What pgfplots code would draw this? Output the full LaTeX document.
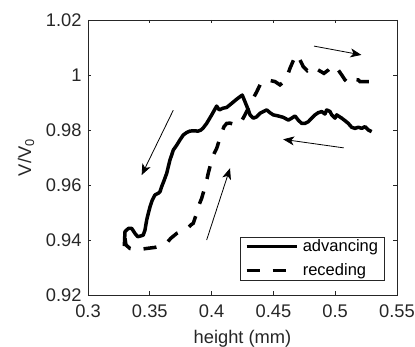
\documentclass[border=0pt]{standalone}
\usepackage{fontspec}
\setmainfont{Liberation Sans}
\usepackage{pgfplots}
\pgfplotsset{compat=1.18}
\usetikzlibrary{arrows.meta}
\definecolor{axgray}{rgb}{0.15,0.15,0.15}
\newcommand{\chartfont}{\fontsize{18.3}{22}\selectfont}
\newcommand{\legfont}{\fontsize{16.5}{20}\selectfont}
\begin{document}
\begin{tikzpicture}
\useasboundingbox (-88pt,-52pt) rectangle (327pt,295pt);
\begin{axis}[
  scale only axis,
  width=309pt, height=275pt,
  xmin=0.3, xmax=0.55, ymin=0.92, ymax=1.02,
  xtick={0.3,0.35,0.4,0.45,0.5,0.55},
  xticklabels={0.3,0.35,0.4,0.45,0.5,0.55},
  ytick={0.92,0.94,0.96,0.98,1,1.02},
  yticklabels={0.92,0.94,0.96,0.98,1,1.02},
  scaled ticks=false,
  tick align=inside, tick pos=both,
  major tick length=3.5pt,
  axis line style={axgray, line width=0.6pt},
  every tick/.style={axgray, line width=0.6pt},
  /pgf/number format/assume math mode=true,
  tick label style={font=\chartfont, text=axgray},
  xticklabel style={yshift=-6.5pt},
  yticklabel style={xshift=-3pt},
  xlabel={height (mm)},
  ylabel={V/V\textsubscript{0}},
  xlabel style={font=\chartfont, text=axgray, at={(axis description cs:0.5,-0.1575)}, anchor=center, inner sep=0pt},
  ylabel style={font=\chartfont, text=axgray, at={(axis description cs:-0.2006,0.5)}, anchor=center, inner sep=0pt, rotate=0},
  legend style={at={(axis description cs:0.961,0.052)}, anchor=south east,
    draw=axgray, line width=0.6pt, inner xsep=4.6pt, inner ysep=1pt,
    font=\legfont, row sep=6.5pt, cells={anchor=west},
    nodes={inner sep=2pt},
    /tikz/every odd column/.append style={column sep=2pt}},
  legend image code/.code={\draw[#1] (0pt,0pt) -- (50.5pt,0pt);},
  clip=false,
]
\addplot[black, line width=3.5pt, line join=round] coordinates {
(0.3294,0.9378) (0.3299,0.9430) (0.3326,0.9442) (0.3354,0.9442) (0.3380,0.9424)
(0.3402,0.9412) (0.3429,0.9415) (0.3447,0.9418) (0.3461,0.9436) (0.3475,0.9473)
(0.3488,0.9497) (0.3502,0.9521) (0.3520,0.9545) (0.3542,0.9564) (0.3569,0.9570)
(0.3583,0.9576) (0.3596,0.9594) (0.3617,0.9618) (0.3637,0.9643) (0.3650,0.9667)
(0.3663,0.9691) (0.3677,0.9709) (0.3690,0.9727) (0.3718,0.9745) (0.3744,0.9764)
(0.3771,0.9782) (0.3799,0.9791) (0.3825,0.9796) (0.3852,0.9797) (0.3892,0.9796)
(0.3914,0.9800) (0.3933,0.9808) (0.3960,0.9824) (0.4001,0.9855) (0.4041,0.9887)
(0.4062,0.9873) (0.4090,0.9879) (0.4122,0.9882) (0.4163,0.9897) (0.4203,0.9912)
(0.4248,0.9927) (0.4270,0.9903) (0.4297,0.9873) (0.4311,0.9855) (0.4338,0.9843)
(0.4365,0.9848) (0.4392,0.9861) (0.4418,0.9867) (0.4446,0.9873) (0.4472,0.9863)
(0.4499,0.9855) (0.4540,0.9851) (0.4580,0.9846) (0.4621,0.9836) (0.4648,0.9843)
(0.4675,0.9851) (0.4701,0.9836) (0.4729,0.9824) (0.4756,0.9824) (0.4782,0.9830)
(0.4810,0.9843) (0.4837,0.9855) (0.4863,0.9863) (0.4891,0.9867) (0.4917,0.9858)
(0.4931,0.9873) (0.4958,0.9867) (0.4972,0.9855) (0.4998,0.9843) (0.5012,0.9855)
(0.5053,0.9843) (0.5079,0.9834) (0.5106,0.9824) (0.5133,0.9810) (0.5160,0.9806)
(0.5187,0.9810) (0.5214,0.9806) (0.5241,0.9812) (0.5268,0.9800) (0.5295,0.9794)
};
\addlegendentry{advancing}
\addplot[black, line width=3.5pt, dash pattern=on 13pt off 13pt] coordinates {
(0.3299,0.9407) (0.3307,0.9382) (0.3340,0.9369) (0.3380,0.9366) (0.3437,0.9367)
(0.3488,0.9370) (0.3542,0.9373) (0.3569,0.9376) (0.3607,0.9382) (0.3637,0.9390)
(0.3672,0.9407) (0.3718,0.9424) (0.3744,0.9429) (0.3771,0.9436) (0.3809,0.9444)
(0.3833,0.9455) (0.3852,0.9461) (0.3879,0.9497) (0.3898,0.9527) (0.3920,0.9552)
(0.3947,0.9594) (0.3963,0.9622) (0.3973,0.9643) (0.4001,0.9691) (0.4019,0.9713)
(0.4041,0.9733) (0.4060,0.9760) (0.4082,0.9790) (0.4100,0.9812) (0.4122,0.9824)
(0.4149,0.9825) (0.4173,0.9822) (0.4214,0.9818) (0.4238,0.9829) (0.4270,0.9855)
(0.4311,0.9891) (0.4343,0.9920) (0.4365,0.9939) (0.4405,0.9976) (0.4440,0.9982)
(0.4472,0.9980) (0.4513,0.9976) (0.4553,0.9964) (0.4594,0.9979) (0.4618,1.0004)
(0.4634,1.0024) (0.4675,1.0067) (0.4699,1.0073) (0.4715,1.0055) (0.4742,1.0030)
(0.4774,1.0016) (0.4810,1.0030) (0.4837,1.0025) (0.4871,1.0016) (0.4909,1.0006)
(0.4944,1.0018) (0.4974,1.0033) (0.4998,1.0030) (0.5025,1.0018) (0.5053,1.0000)
(0.5079,0.9982) (0.5104,0.9971) (0.5133,0.9972) (0.5152,0.9984) (0.5187,0.9982)
(0.5201,0.9976) (0.5233,0.9976) (0.5276,0.9976) (0.5303,0.9976)
};
\addlegendentry{receding}
\draw[black, line width=0.8pt, -{Stealth[length=11pt,width=9pt,inset=3pt]}] (axis cs:0.3690,0.9872) -- (axis cs:0.3434,0.9636);
\draw[black, line width=0.8pt, -{Stealth[length=11pt,width=9pt,inset=3pt]}] (axis cs:0.5069,0.9735) -- (axis cs:0.4579,0.9766);
\draw[black, line width=0.8pt, -{Stealth[length=11pt,width=9pt,inset=3pt]}] (axis cs:0.3960,0.9400) -- (axis cs:0.4149,0.9661);
\draw[black, line width=0.8pt, -{Stealth[length=11pt,width=9pt,inset=3pt]}] (axis cs:0.4829,1.0105) -- (axis cs:0.5212,1.0073);
\end{axis}
\end{tikzpicture}
\end{document}
